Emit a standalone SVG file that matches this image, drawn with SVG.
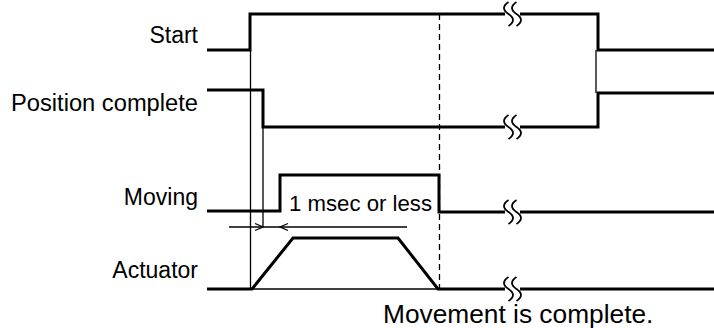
<svg xmlns="http://www.w3.org/2000/svg" width="714" height="328" viewBox="0 0 714 328">
<style>
.lbl{font-family:"Liberation Sans",Arial,sans-serif;font-size:23px;fill:#000}
.big{font-family:"Liberation Sans",Arial,sans-serif;font-size:26.3px;fill:#000}
.thick{fill:none;stroke:#000;stroke-width:3;stroke-linejoin:miter}
.thin{fill:none;stroke:#000;stroke-width:1.3}
.dash{fill:none;stroke:#000;stroke-width:1.3;stroke-dasharray:6,4}
.brk{fill:none;stroke:#000;stroke-width:1.8}
</style>
<defs>
<path id="brk" class="brk" d="M-3.5,-12 c-6,4 -6,8 0,12 s6,8 0,12 M4.5,-12 c-6,4 -6,8 0,12 s6,8 0,12"/>
</defs>
<rect width="714" height="328" fill="#fff"/>
<g id="labels">
<text class="lbl" x="198" y="43" text-anchor="end">Start</text>
<text class="lbl" x="198" y="111" text-anchor="end" textLength="187" lengthAdjust="spacingAndGlyphs">Position complete</text>
<text class="lbl" x="198" y="205" text-anchor="end">Moving</text>
<text class="lbl" x="198" y="278" text-anchor="end">Actuator</text>
</g>
<g id="start">
<path class="thick" d="M207,50 H250 V14 H505 M520,14 H598 V50 H714"/>
<use href="#brk" x="512" y="14"/>
</g>
<g id="position">
<path class="thick" d="M207,90 H263 V127 H505 M520,127 H598 V93 H714"/>
<use href="#brk" x="512" y="127"/>
</g>
<g id="moving">
<path class="thick" d="M207,211 H280 V175 H439 V212 H505 M520,212 H714"/>
<use href="#brk" x="512" y="212"/>
<text class="lbl" x="289" y="211" style="font-size:22.2px">1 msec or less</text>
</g>
<g id="actuator">
<path class="thick" d="M207,289 H252 L293,238 H398 L438,289 H505 M520,289 H714"/>
<path class="thin" d="M252,289 H438"/>
<use href="#brk" x="512" y="289"/>
</g>
<g id="connectors">
<path class="thin" d="M596,50 V93"/>
<path class="thin" d="M250.5,50 V289"/>
<path class="thin" d="M263,90 V227"/>
<path class="dash" d="M439.5,14 V290"/>
<path class="thin" d="M229,227 H407"/>
<path class="thin" d="M255,223.5 L263,227 L255,230.5"/>
<path class="thin" d="M288,223.5 L280,227 L288,230.5"/>
</g>
<text class="big" x="383" y="323">Movement is complete.</text>
</svg>
